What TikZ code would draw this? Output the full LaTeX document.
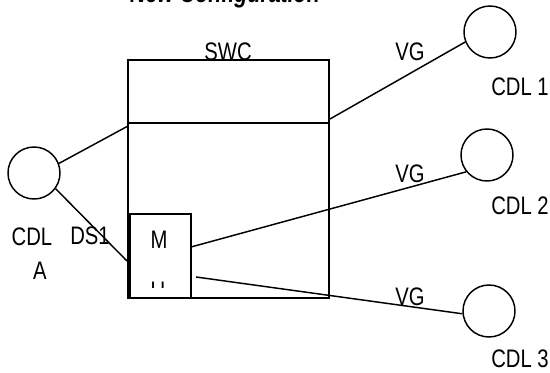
\documentclass[tikz,border=0pt]{standalone}
\usepackage{fontspec}
\setmainfont{Liberation Sans}[FakeStretch=0.8]
\begin{document}
\begin{tikzpicture}[x=0.75pt, y=-0.75pt, line width=1.1pt,
  every node/.style={font=\fontsize{19}{25.5}\selectfont, inner sep=0pt},
  cdl/.style={draw, circle, minimum size=39pt},
  box/.style={draw, rectangle}]

  \useasboundingbox (0,0) rectangle (550,373);
  \clip (0,0) rectangle (550,373);

  % --- TITLE (cut by the top edge) ---
  \node[font=\fontsize{20}{22}\selectfont\bfseries\itshape, anchor=base] (title) at (225,3) {New Configuration};

  % --- SWC ---
  \node[box, minimum width=150.75pt, minimum height=178.5pt] (swc) at (228.5,179) {};
  \draw (swc.west |- 0,123) -- (swc.east |- 0,123);
  \node (swclabel) at (228,52) {SWC};

  % M box inside SWC
  \node[box, minimum width=45.75pt, minimum height=63pt] (mbox) at (160.5,256) {};
  \node (mlabel) at (159,240) {M};
  \begin{scope}
    \clip (130,214) rectangle (191,288);
    \node[anchor=base] (ulabel) at (158,300) {U};
  \end{scope}

  % --- CDL CIRCLES ---
  \node[cdl] (cdla) at (34,173) {};
  \node[cdl] (cdl1) at (490,32) {};
  \node[cdl] (cdl2) at (487,155) {};
  \node[cdl] (cdl3) at (489,311) {};

  \node[anchor=north west, align=left] (cdlalabel) at (11,227) {CDL\\\hspace*{16pt}A};
  \node (ds1) at (90,236) {DS1};
  \node (cdl1label) at (520,87) {CDL 1};
  \node (cdl2label) at (520,206) {CDL 2};
  \node (cdl3label) at (520,359) {CDL 3};

  % --- LINKS ---
  \coordinate (swcin1) at (128,126);
  \coordinate (swcin2) at (127,261);
  \coordinate (swcout) at (330,119);
  \coordinate (mout1) at (191,247);
  \coordinate (mout2) at (196,277);

  \draw (cdla.21) -- (swcin1);
  \draw (cdla.324) -- (swcin2);
  \draw (swcout) -- (cdl1.202);
  \draw (mout1) -- (cdl2.219);
  \draw (mout2) -- (cdl3.186);

  \node (vg1) at (410,52) {VG};
  \node (vg2) at (410,174) {VG};
  \node (vg3) at (410,297) {VG};

\end{tikzpicture}
\end{document}
